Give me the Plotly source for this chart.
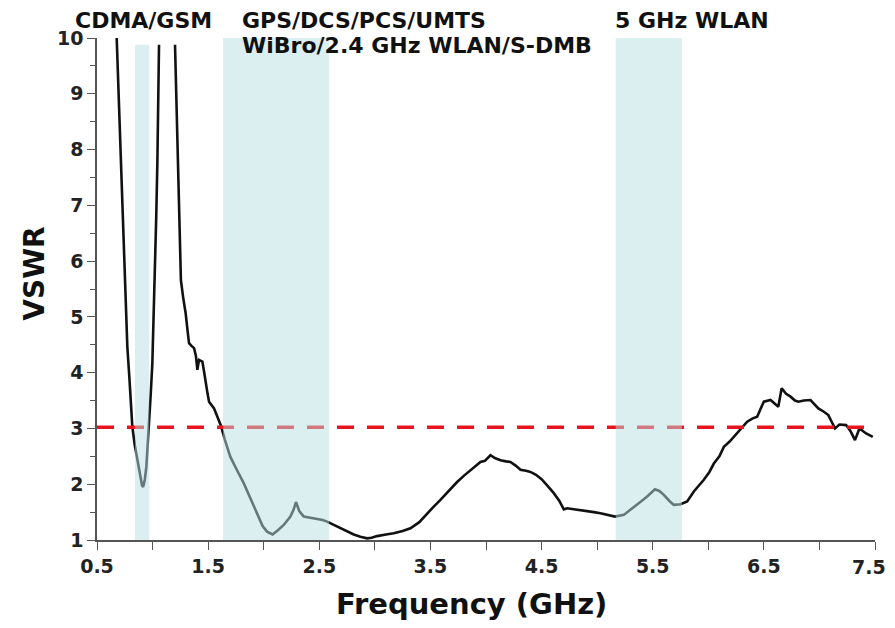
import plotly.graph_objects as go

# ---- data ----
freq_ghz = [
    0.672, 0.677, 0.70, 0.719, 0.735, 0.75, 0.773, 0.79, 0.803, 0.818, 0.84, 0.863, 0.885, 0.905,
    0.915, 0.93, 0.944, 0.956, 0.968, 0.983, 0.998, 1.01, 1.022, 1.033, 1.043, 1.052, 1.058,
    None,
    1.202, 1.215, 1.232, 1.243, 1.255, 1.275, 1.298, 1.315, 1.328, 1.35, 1.373, 1.39, 1.403,
    1.418, 1.435, 1.448, 1.465, 1.478, 1.495, 1.508, 1.53, 1.553, 1.575, 1.598, 1.615, 1.65,
    1.70, 1.76, 1.82, 1.88, 1.94, 1.99, 2.03, 2.08, 2.13, 2.18, 2.24, 2.27, 2.29, 2.32, 2.36,
    2.42, 2.48, 2.53, 2.57, 2.63, 2.69, 2.75, 2.81, 2.87, 2.93, 2.97, 3.02, 3.10, 3.17, 3.25,
    3.32, 3.40, 3.47, 3.53, 3.59, 3.67, 3.74, 3.80, 3.86, 3.91, 3.95, 3.99, 4.04, 4.08, 4.13,
    4.18, 4.22, 4.27, 4.31, 4.36, 4.40, 4.45, 4.50, 4.55, 4.61, 4.66, 4.70, 4.73, 4.80, 4.91,
    4.97, 5.03, 5.10, 5.16, 5.24, 5.33, 5.40, 5.45, 5.52, 5.56, 5.60, 5.65, 5.69, 5.75, 5.81,
    5.87, 5.92, 5.96, 6.01, 6.05, 6.10, 6.14, 6.19, 6.23, 6.29, 6.35, 6.40, 6.44, 6.47, 6.50,
    6.56, 6.60, 6.63, 6.66, 6.70, 6.74, 6.78, 6.81, 6.86, 6.92, 6.96, 6.99, 7.04, 7.08, 7.11,
    7.14, 7.18, 7.24, 7.28, 7.32, 7.36, 7.39, 7.42, 7.48,
]
vswr = [
    10.3, 10.0, 8.8, 7.75, 6.6, 5.6, 4.46, 3.95, 3.57, 3.03, 2.7, 2.43, 2.18, 1.98,
    1.95, 2.08, 2.31, 2.65, 3.03, 3.6, 4.17, 5.0, 5.66, 6.8, 7.75, 8.9, 9.88,
    None,
    9.88, 8.9, 7.75, 6.7, 5.66, 5.35, 5.06, 4.75, 4.53, 4.48, 4.44, 4.30, 4.05,
    4.23, 4.22, 4.20, 4.0, 3.81, 3.62, 3.48, 3.42, 3.36, 3.25, 3.15, 3.05, 2.80,
    2.49, 2.25, 2.02, 1.75, 1.48, 1.25, 1.15, 1.10, 1.18, 1.27, 1.42, 1.55, 1.68, 1.52, 1.42,
    1.40, 1.39, 1.36, 1.33, 1.27, 1.21, 1.15, 1.10, 1.06, 1.03, 1.04, 1.07, 1.10, 1.12, 1.16,
    1.21, 1.32, 1.48, 1.60, 1.72, 1.90, 2.04, 2.15, 2.25, 2.33, 2.40, 2.42, 2.52, 2.47, 2.43,
    2.41, 2.40, 2.33, 2.26, 2.24, 2.22, 2.17, 2.09, 1.98, 1.84, 1.70, 1.55, 1.57, 1.55, 1.53,
    1.50, 1.48, 1.45, 1.42, 1.45, 1.60, 1.70, 1.78, 1.91, 1.88, 1.81, 1.70, 1.63, 1.64, 1.69,
    1.87, 1.98, 2.08, 2.22, 2.37, 2.50, 2.67, 2.76, 2.85, 2.97, 3.12, 3.18, 3.21, 3.35, 3.48,
    3.51, 3.45, 3.39, 3.72, 3.62, 3.57, 3.50, 3.48, 3.50, 3.51, 3.42, 3.36, 3.30, 3.24, 3.12,
    3.00, 3.07, 3.06, 2.95, 2.79, 3.00, 2.95, 2.91, 2.85,
]

threshold = 3.02

band_start = [0.842, 1.634, 5.167]
band_end = [0.970, 2.588, 5.763]
band_top = [9.88, 10.0, 10.0]

label_texts = ["CDMA/GSM", "GPS/DCS/PCS/UMTS", "WiBro/2.4 GHz WLAN/S-DMB", "5 GHz WLAN"]
label_xpaper = [-0.0296, 0.185, 0.185, 0.6645]
label_ypaper = [1.0339, 1.0339, 0.9851, 1.0339]

x_tickvals = [0.5, 1.5, 2.5, 3.5, 4.5, 5.5, 6.5, 7.5]
x_ticktext = ["0.5", "1.5", "2.5", "3.5", "4.5", "5.5", "6.5", ""]
last_x_label = "7.5"   # drawn separately so it is not clipped at the page edge

x_range = [0.5, 7.5]
y_range = [1, 10]

# ---- figure ----
fig = go.Figure()

fig.add_trace(go.Scatter(
    x=freq_ghz, y=vswr, mode="lines",
    line=dict(color="#111111", width=2.6),
    connectgaps=False, showlegend=False, hoverinfo="skip",
))

fig.add_trace(go.Scatter(
    x=x_range, y=[threshold, threshold], mode="lines",
    line=dict(color="rgb(230,20,30)", width=3.5, dash="17px,13px"),
    showlegend=False, hoverinfo="skip",
))

for s, e, t in zip(band_start, band_end, band_top):
    fig.add_shape(type="rect", xref="x", yref="y", x0=s, x1=e, y0=y_range[0], y1=t,
                  fillcolor="rgba(185,223,226,0.5)", line=dict(width=0), layer="above")

label_font = dict(family="DejaVu Sans", size=22, color="#111111", weight="bold")
for name, lx, ly in zip(label_texts, label_xpaper, label_ypaper):
    fig.add_annotation(x=lx, xref="paper", y=ly, yref="paper", text=name,
                       showarrow=False, xanchor="left", yanchor="middle", align="left",
                       borderpad=0, font=label_font)

fig.add_annotation(x=-0.08, xref="paper", y=0.53, yref="paper", text="VSWR",
                   textangle=-90, showarrow=False, xanchor="center", yanchor="middle",
                   font=dict(family="DejaVu Sans", size=28, color="#111111", weight="bold"))
fig.add_annotation(x=0.482, xref="paper", y=-0.1265, yref="paper", text="Frequency (GHz)",
                   showarrow=False, xanchor="center", yanchor="middle", borderpad=0,
                   font=dict(family="DejaVu Sans", size=29, color="#111111", weight="bold"))

tick_font = dict(family="DejaVu Sans", size=19, color="#222222", weight="bold")

fig.add_annotation(x=1.0152, xref="paper", y=-0.0538, yref="paper", text=last_x_label,
                   showarrow=False, xanchor="right", yanchor="middle", borderpad=0,
                   font=tick_font)

fig.update_xaxes(
    range=x_range, tickmode="array", tickvals=x_tickvals, ticktext=x_ticktext,
    ticks="outside", ticklen=8, tickwidth=1.2,
    tickcolor="#555555", showline=True, linecolor="#555555", linewidth=1.5,
    showgrid=False, zeroline=False, tickfont=tick_font,
    minor=dict(tick0=0.5, dtick=0.5, ticks="outside", ticklen=8, tickwidth=1.2,
               tickcolor="#555555", showgrid=False),
)
fig.update_yaxes(
    range=y_range, tick0=1, dtick=1, ticks="outside", ticklen=8, tickwidth=1.2,
    tickcolor="#555555", showline=True, linecolor="#555555", linewidth=1.5,
    showgrid=False, zeroline=False, tickfont=tick_font,
    minor=dict(dtick=0.5, ticks="outside", ticklen=5, tickwidth=1.2,
               tickcolor="#555555", showgrid=False),
)

# page body has an 8px margin, so the figure is sized/offset to fit the 895x628 window
fig.update_layout(
    width=879, height=612,
    margin=dict(l=89, r=12, t=30, b=80),
    paper_bgcolor="white", plot_bgcolor="white",
    showlegend=False,
)

fig.write_html("out.html")
